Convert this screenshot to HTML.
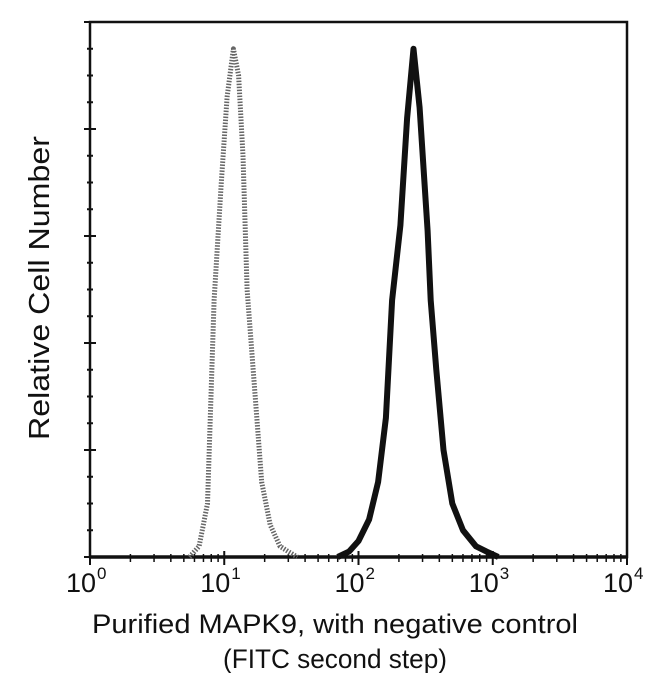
<!DOCTYPE html>
<html><head><meta charset="utf-8"><style>
body{margin:0;background:#fff;}
svg{display:block;font-family:"Liberation Sans",sans-serif;}
</style></head><body>
<svg id="chart" width="650" height="673" viewBox="0 0 650 673">
<g id="axes"></g>
<g id="series"></g>
<text transform="translate(49,288) rotate(-90)" text-anchor="middle" font-size="29" textLength="304" lengthAdjust="spacingAndGlyphs" fill="#111">Relative Cell Number</text>
<text x="335" y="633" text-anchor="middle" font-size="27" textLength="486" lengthAdjust="spacingAndGlyphs" fill="#111">Purified MAPK9, with negative control</text>
<text x="335" y="668" text-anchor="middle" font-size="27" textLength="224" lengthAdjust="spacingAndGlyphs" fill="#111">(FITC second step)</text>
</svg>
<script>
const xTickExps = [0, 1, 2, 3, 4];
const controlX = [5.5, 6.5, 7.5, 8.4, 9.5, 10.5, 11.7, 12.8, 13.8, 14.8, 17, 19, 22, 26, 30, 35];
const controlY = [0, 2, 10, 48, 70, 86, 95, 90, 75, 50, 30, 14, 6, 2, 1, 0];
const sampleX = [70, 85, 100, 120, 140, 160, 178, 205, 230, 257, 285, 327, 345, 380, 430, 500, 600, 750, 900, 1100];
const sampleY = [0, 1, 3, 7, 14, 26, 48, 62, 82, 95, 84, 61, 48, 35, 20, 10, 5, 2, 1, 0];

const L = 90, R = 627, T = 22, B = 557;
const NS = "http://www.w3.org/2000/svg";
function sx(v){ return L + (Math.log10(v) / 4) * (R - L); }
function sy(v){ return B - (v / 100) * (B - T); }
function mk(tag, attrs, parent){
  const e = document.createElementNS(NS, tag);
  for (const k in attrs) e.setAttribute(k, attrs[k]);
  parent.appendChild(e); return e;
}
const axes = document.getElementById('axes');
const frame = mk('rect', {x:L, y:T, width:R-L, height:B-T, fill:'none', stroke:'#111', 'stroke-width':2.5}, axes);


const base = mk('line', {x1:L, x2:R, y1:B, y2:B, stroke:'#111', 'stroke-width':3.5}, axes);


for (let i = 0; i <= 20; i++) {
  const y = B - i * (B - T) / 20;
  const len = (i % 4 === 0) ? 6 : 3;
  const t = mk('line', {x1:L-len, x2:L+len, y1:y, y2:y, stroke:'#111', 'stroke-width':2}, axes);
  
  
}
xTickExps.forEach((e, idx) => {
  const x = sx(Math.pow(10, e));
  const t = mk('line', {x1:x, x2:x, y1:B-6, y2:B+8, stroke:'#111', 'stroke-width':2}, axes);
  
  
  const lab = mk('text', {x:x-9, y:592, 'text-anchor':'middle', 'font-size':27, fill:'#111'}, axes);
  
  
  lab.textContent = '10';
  const sup = mk('text', {x:x+7, y:579, 'font-size':17, fill:'#111'}, axes);
  
  
  sup.textContent = String(e);
  if (idx < xTickExps.length - 1) {
    for (let m = 2; m <= 9; m++) {
      const mx = sx(m * Math.pow(10, e));
      const mt = mk('line', {x1:mx, x2:mx, y1:B-3, y2:B+5, stroke:'#111', 'stroke-width':1.5}, axes);
      
      
    }
  }
});
const series = document.getElementById('series');
function path(xs, ys){ return xs.map((v,i)=> (i?'L':'M') + sx(v).toFixed(1) + ',' + sy(ys[i]).toFixed(1)).join(''); }
const c = mk('path', {d:path(controlX, controlY), fill:'none', stroke:'#666', 'stroke-width':5, 'stroke-dasharray':'1.5 1.5', 'stroke-linejoin':'round'}, series);


const s = mk('path', {d:path(sampleX, sampleY), fill:'none', stroke:'#111', 'stroke-width':6, 'stroke-linejoin':'round'}, series);


</script>
</body></html>
